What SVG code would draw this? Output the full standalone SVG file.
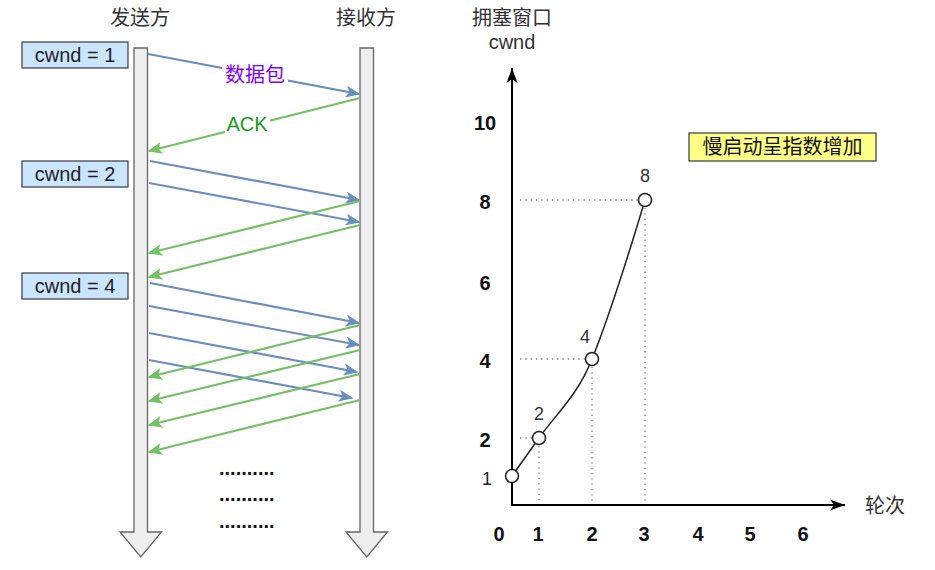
<svg xmlns="http://www.w3.org/2000/svg" width="935" height="570" viewBox="0 0 935 570">
<style>
.cjk{font-family:"Liberation Sans","Noto Sans CJK SC",sans-serif;}
.lat{font-family:"Liberation Sans",Arial,sans-serif;}
.title{font-size:20px;fill:#333333;}
.cw{fill:#cce5ff;stroke:#36393d;stroke-width:1.2;}
.cwt{font-size:20px;fill:#222222;text-anchor:middle;}
.life{fill:#eeeeee;stroke:#666666;stroke-width:1.3;}
.blue{stroke:#6c8ebf;stroke-width:2.2;fill:none;marker-end:url(#mb);}
.green{stroke:#74c065;stroke-width:2.2;fill:none;marker-end:url(#mg);}
.dots{stroke:#777777;stroke-width:1.3;stroke-dasharray:1.3 4;fill:none;}
.axis{stroke:#000;stroke-width:2;fill:none;}
.tick{font-size:20px;font-weight:bold;fill:#111;text-anchor:middle;}
.pt{fill:#fff;stroke:#222;stroke-width:1.5;}
.plab{font-size:18px;fill:#333;text-anchor:middle;}
</style>
<defs>
<marker id="mb" markerUnits="userSpaceOnUse" markerWidth="13" markerHeight="11" refX="12" refY="5" orient="auto" overflow="visible">
<path d="M0,0 L12,5 L0,10 L3,5 Z" fill="#6c8ebf" stroke="#6c8ebf" stroke-width="1"/>
</marker>
<marker id="mg" markerUnits="userSpaceOnUse" markerWidth="13" markerHeight="11" refX="12" refY="5" orient="auto" overflow="visible">
<path d="M0,0 L12,5 L0,10 L3,5 Z" fill="#74c065" stroke="#74c065" stroke-width="1"/>
</marker>
<marker id="mk" markerUnits="userSpaceOnUse" markerWidth="16" markerHeight="12" refX="15" refY="5.5" orient="auto" overflow="visible">
<path d="M0,0 L15,5.5 L0,11 L4,5.5 Z" fill="#000"/>
</marker>
</defs>

<g id="sender-title"><text class="cjk title" x="140" y="25" text-anchor="middle">发送方</text></g>
<g id="receiver-title"><text class="cjk title" x="366" y="25" text-anchor="middle">接收方</text></g>

<g id="sender-line"><path class="life" d="M134,48 L147.5,48 L147.5,532 L161.5,532 L140.75,557 L120,532 L134,532 Z"/></g>
<g id="receiver-line"><path class="life" d="M360,48 L373.5,48 L373.5,532 L387.5,532 L366.75,557 L346,532 L360,532 Z"/></g>

<g id="cwnd1"><rect class="cw" x="22" y="42" width="106" height="26"/><text class="lat cwt" x="75" y="62">cwnd = 1</text></g>
<g id="cwnd2"><rect class="cw" x="22" y="161" width="106" height="26"/><text class="lat cwt" x="75" y="181">cwnd = 2</text></g>
<g id="cwnd4"><rect class="cw" x="22" y="273" width="106" height="26"/><text class="lat cwt" x="75" y="293">cwnd = 4</text></g>

<g id="connectors">
<line class="blue" x1="148" y1="54" x2="359" y2="94"/>
<line class="green" x1="360" y1="98" x2="149" y2="151"/>
<line class="blue" x1="150" y1="161" x2="359" y2="200"/>
<line class="blue" x1="149" y1="183" x2="359" y2="222"/>
<line class="green" x1="360" y1="201" x2="149" y2="253"/>
<line class="green" x1="360" y1="225" x2="149" y2="277"/>
<line class="blue" x1="150" y1="283" x2="359" y2="323"/>
<line class="blue" x1="149" y1="306" x2="359" y2="345"/>
<line class="blue" x1="149" y1="333" x2="357" y2="372"/>
<line class="blue" x1="149" y1="360" x2="352" y2="398"/>
<line class="green" x1="360" y1="325" x2="149" y2="377"/>
<line class="green" x1="360" y1="350" x2="149" y2="401"/>
<line class="green" x1="360" y1="374" x2="149" y2="425"/>
<line class="green" x1="360" y1="400" x2="149" y2="452"/>
</g>

<g id="label-data"><rect x="222" y="63" width="66" height="24" fill="#fff"/><text class="cjk" x="255" y="82" font-size="20" fill="#7f00ff" text-anchor="middle">数据包</text></g>
<g id="label-ack"><rect x="225" y="112" width="45" height="22" fill="#fff"/><text class="lat" x="247" y="131" font-size="20" fill="#1a9a1a" text-anchor="middle">ACK</text></g>

<g id="ellipsis" class="lat" font-size="20" font-weight="bold" fill="#111">
<text x="219" y="475">..........</text>
<text x="219" y="501">..........</text>
<text x="219" y="528">..........</text>
</g>

<g id="chart-title"><text class="cjk" x="512" y="25" font-size="20" fill="#333" text-anchor="middle">拥塞窗口</text><text class="lat" x="512" y="49" font-size="20" fill="#333" text-anchor="middle">cwnd</text></g>
<g id="x-title"><text class="cjk" x="885" y="513" font-size="20" fill="#333" text-anchor="middle">轮次</text></g>

<g id="guides">
<line class="dots" x1="520" y1="200" x2="638" y2="200"/>
<line class="dots" x1="520" y1="359" x2="585" y2="359"/>
<line class="dots" x1="520" y1="438" x2="532" y2="438"/>
<line class="dots" x1="645" y1="208" x2="645" y2="503"/>
<line class="dots" x1="592" y1="367" x2="592" y2="503"/>
<line class="dots" x1="539" y1="446" x2="539" y2="503"/>
</g>

<g id="axes">
<line class="axis" x1="512" y1="505" x2="512" y2="68" marker-end="url(#mk)"/>
<line class="axis" x1="511" y1="505" x2="845" y2="505" marker-end="url(#mk)"/>
</g>

<g id="y-ticks" class="lat">
<text class="tick" x="485" y="130">10</text>
<text class="tick" x="485" y="209">8</text>
<text class="tick" x="485" y="290">6</text>
<text class="tick" x="485" y="368">4</text>
<text class="tick" x="485" y="447">2</text>
<text x="487" y="485" font-size="18" fill="#222" text-anchor="middle">1</text>
</g>
<g id="x-ticks" class="lat">
<text class="tick" x="499" y="541">0</text>
<text class="tick" x="538" y="541">1</text>
<text class="tick" x="592" y="541">2</text>
<text class="tick" x="644" y="541">3</text>
<text class="tick" x="698" y="541">4</text>
<text class="tick" x="750" y="541">5</text>
<text class="tick" x="803" y="541">6</text>
</g>

<g id="curve"><path d="M512,476 L539,438 C556,414 578,395 592,359 C607,322 630,250 645,200" fill="none" stroke="#222" stroke-width="1.5"/></g>

<g id="p1"><circle class="pt" cx="512" cy="476" r="6.5"/></g>
<g id="p2"><circle class="pt" cx="539" cy="438" r="6.5"/><text class="lat plab" x="539" y="420">2</text></g>
<g id="p4"><circle class="pt" cx="592" cy="359" r="6.5"/><text class="lat plab" x="585" y="343">4</text></g>
<g id="p8"><circle class="pt" cx="645" cy="200" r="6.5"/><text class="lat plab" x="645" y="182">8</text></g>

<g id="note"><rect x="689" y="133" width="187" height="28" fill="#ffff88" stroke="#36393d" stroke-width="1.2"/><text class="cjk" x="782.5" y="154" font-size="20" fill="#111" text-anchor="middle">慢启动呈指数增加</text></g>
</svg>
